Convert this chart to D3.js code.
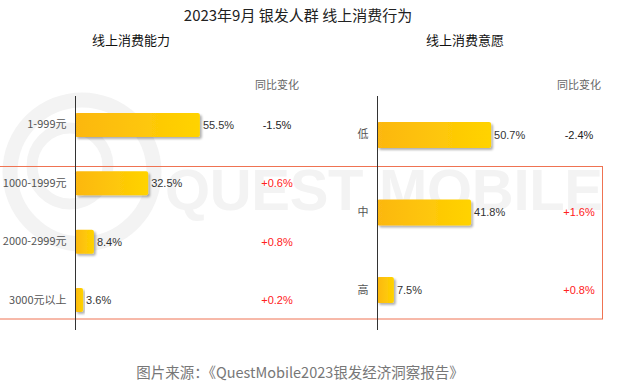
<!DOCTYPE html>
<html>
<head>
<meta charset="utf-8">
<script src="https://cdn.jsdelivr.net/npm/d3@7"></script>
<style>
  body { margin: 0; background: #fff; }
  svg { display: block; font-family: "Noto Sans CJK SC", "Liberation Sans", sans-serif; }
</style>
</head>
<body>
<svg id="canvas"></svg>
<script>
// data
const abilityCats = ['1-999元', '1000-1999元', '2000-2999元', '3000元以上'];
const abilityVals = [55.5, 32.5, 8.4, 3.6];
const abilityChg = ['-1.5%', '+0.6%', '+0.8%', '+0.2%'];

const willCats = ['低', '中', '高'];
const willVals = [50.7, 41.8, 7.5];
const willChg = ['-2.4%', '+1.6%', '+0.8%'];

let width = 621;
let height = 387;

let canvas = d3.select('#canvas');
canvas.attr('width', width);
canvas.attr('height', height);

let defs = canvas.append('defs');
let grad = defs.append('linearGradient').attr('id', 'barGrad');
grad.append('stop').attr('offset', '0%').attr('stop-color', '#fcb712');
grad.append('stop').attr('offset', '100%').attr('stop-color', '#ffd300');
let shadow = defs.append('filter').attr('id', 'shadow')
    .attr('x', '-10%').attr('y', '-30%').attr('width', '130%').attr('height', '180%');
shadow.append('feDropShadow')
    .attr('dx', 2).attr('dy', 2).attr('stdDeviation', 1.3)
    .attr('flood-color', '#000').attr('flood-opacity', 0.3);

// watermark
let wm = canvas.append('g').attr('fill', 'none').attr('stroke', '#f3f3f3');
wm.append('circle').attr('cx', 82).attr('cy', 172).attr('r', 72).attr('stroke-width', 15);
wm.append('circle').attr('cx', 70).attr('cy', 166).attr('r', 38).attr('stroke-width', 11);
canvas.append('text')
    .attr('x', 165).attr('y', 210)
    .attr('textLength', 438)
    .attr('font-family', '"Liberation Sans", Arial, sans-serif')
    .attr('font-size', 58)
    .attr('font-weight', 700)
    .attr('fill', '#f3f3f3')
    .text('QUEST MOBILE');

// red frame
canvas.append('rect')
    .attr('x', -1).attr('y', 166.5).attr('width', 603.5).attr('height', 152.5)
    .attr('fill', 'none').attr('stroke', '#ef7352').attr('stroke-width', 1);

// titles
canvas.append('text').attr('x', 298).attr('y', 21).attr('text-anchor', 'middle')
    .attr('font-size', 15).attr('fill', '#222').text('2023年9月 银发人群 线上消费行为');
canvas.append('text').attr('x', 131).attr('y', 45).attr('text-anchor', 'middle')
    .attr('font-size', 13).attr('fill', '#111').text('线上消费能力');
canvas.append('text').attr('x', 465).attr('y', 45).attr('text-anchor', 'middle')
    .attr('font-size', 13).attr('fill', '#111').text('线上消费意愿');

let xScale = d3.scaleLinear().domain([0, 60]).range([0, 135]);

let drawPanel = (cats, vals, chg, axisX, chgX, bandOpts) => {
    let yScale = d3.scaleBand()
        .domain(cats)
        .range([96, 329])
        .paddingInner(bandOpts.inner)
        .paddingOuter(bandOpts.outer);

    let g = canvas.append('g');

    g.selectAll('rect.bar')
        .data(vals)
        .enter()
        .append('rect')
        .attr('class', 'bar')
        .attr('x', axisX)
        .attr('y', (d, i) => yScale(cats[i]))
        .attr('width', d => xScale(d))
        .attr('height', yScale.bandwidth())
        .attr('rx', 2)
        .attr('fill', 'url(#barGrad)')
        .attr('filter', 'url(#shadow)');

    g.selectAll('text.val')
        .data(vals)
        .enter()
        .append('text')
        .attr('class', 'val')
        .attr('x', d => axisX + xScale(d) + 3)
        .attr('y', (d, i) => yScale(cats[i]) + yScale.bandwidth() / 2)
        .attr('dy', '0.35em')
        .attr('font-family', '"Liberation Sans", Arial, sans-serif')
        .attr('font-size', 11)
        .attr('fill', '#333')
        .text(d => d + '%');

    g.selectAll('text.chg')
        .data(chg)
        .enter()
        .append('text')
        .attr('class', 'chg')
        .attr('x', chgX)
        .attr('y', (d, i) => yScale(cats[i]) + yScale.bandwidth() / 2)
        .attr('dy', '0.35em')
        .attr('text-anchor', 'middle')
        .attr('font-family', '"Liberation Sans", Arial, sans-serif')
        .attr('font-size', 11)
        .attr('fill', d => d[0] === '+' ? '#ff2020' : '#222')
        .text(d => d);

    canvas.append('text')
        .attr('x', chgX).attr('y', 89)
        .attr('text-anchor', 'middle')
        .attr('font-size', 11)
        .attr('fill', '#666')
        .text('同比变化');

    let yAxis = d3.axisLeft(yScale).tickSize(0).tickPadding(9);
    let ax = canvas.append('g')
        .attr('transform', 'translate(' + (axisX + 0.5) + ', 0)')
        .call(yAxis);
    ax.select('.domain').attr('stroke', '#333').attr('d', 'M0,96V330');
    ax.selectAll('text')
        .attr('font-family', '"Noto Sans CJK SC", "Liberation Sans", sans-serif')
        .attr('font-size', 11)
        .attr('fill', '#555');
}

drawPanel(abilityCats, abilityVals, abilityChg, 75, 277, { inner: 0.589, outer: 0.29 });
drawPanel(willCats, willVals, willChg, 377, 579, { inner: 0.665, outer: 0.335 });

// source
canvas.append('text').attr('x', 300).attr('y', 378).attr('text-anchor', 'middle')
    .attr('font-size', 14.5).attr('fill', '#777')
    .text('图片来源：《QuestMobile2023银发经济洞察报告》');
</script>
</body>
</html>
